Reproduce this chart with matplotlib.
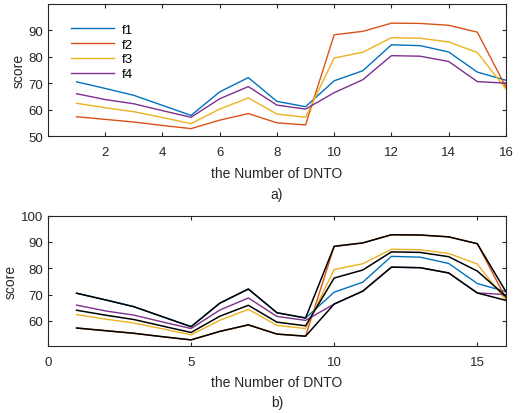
import numpy as np
import matplotlib
matplotlib.use("Agg")
import matplotlib.pyplot as plt

plt.rcParams['font.family'] = ['Liberation Sans', 'DejaVu Sans']

# data
x = np.arange(1, 17)
f1 = [70.5, 68.0, 65.4, 61.6, 57.8, 66.7, 72.1, 63.1, 61.1, 70.9, 74.7, 84.5, 84.2, 81.8, 74.2, 71.1]
f2 = [57.3, 56.3, 55.3, 54.0, 52.8, 56.0, 58.5, 55.0, 54.2, 88.3, 89.6, 92.7, 92.6, 91.9, 89.3, 68.5]
f3 = [62.4, 60.7, 59.2, 57.0, 54.7, 60.2, 64.4, 58.3, 57.1, 79.5, 81.7, 87.2, 87.0, 85.6, 81.6, 67.8]
f4 = [66.0, 63.8, 62.2, 59.6, 57.1, 64.1, 68.7, 61.7, 60.2, 66.4, 71.3, 80.4, 80.2, 78.2, 70.6, 70.0]
names = ['f1', 'f2', 'f3', 'f4']
colors = ['#0072BD', '#D95319', '#EDB120', '#7E2F8E']

series = np.array([f1, f2, f3, f4])
upper = series.max(axis=0)
lower = series.min(axis=0)
middle = series.mean(axis=0)

txt = '#262626'
fig = plt.figure(figsize=(5.27, 4.14), dpi=100)
ax1 = fig.add_axes([0.091, 0.669, 0.869, 0.318])
ax2 = fig.add_axes([0.091, 0.162, 0.869, 0.315])


def style(ax):
    for s in ax.spines.values():
        s.set_color(txt)
        s.set_linewidth(0.8)
    ax.tick_params(direction='in', top=True, right=True, length=3, width=0.8,
                   colors=txt, labelsize=9.5)
    ax.tick_params(axis='x', pad=7)


# a) the four curves
for s, n, c in zip(series, names, colors):
    ax1.plot(x, s, color=c, lw=1, label=n)
ax1.set_xlim(0, 16)
ax1.set_ylim(50, 99.8)
ax1.set_xticks(range(2, 17, 2))
ax1.set_yticks(range(50, 100, 10))
ax1.set_ylabel('score', fontsize=10, color=txt, labelpad=2)
ax1.set_xlabel('the Number of DNTO\na)', fontsize=10, color=txt, labelpad=6, linespacing=1.6)
ax1.legend(loc='upper left', frameon=False, fontsize=9.5, handlelength=3.2,
           handletextpad=0.6, labelspacing=0.2, bbox_to_anchor=(0.025, 0.945))
style(ax1)

# b) curves with max / mean / min in black
for s, c in zip(series, colors):
    ax2.plot(x, s, color=c, lw=1)
for b in [upper, middle, lower]:
    ax2.plot(x, b, color='black', lw=1.1)
ax2.set_xlim(0, 16)
ax2.set_ylim(50.5, 100)
ax2.set_xticks([0, 5, 10, 15])
ax2.set_yticks(range(60, 101, 10))
ax2.set_ylabel('score', fontsize=10, color=txt, labelpad=2)
ax2.set_xlabel('the Number of DNTO\nb)', fontsize=10, color=txt, labelpad=5, linespacing=1.6)
style(ax2)

fig.savefig('out.png', dpi=100)
